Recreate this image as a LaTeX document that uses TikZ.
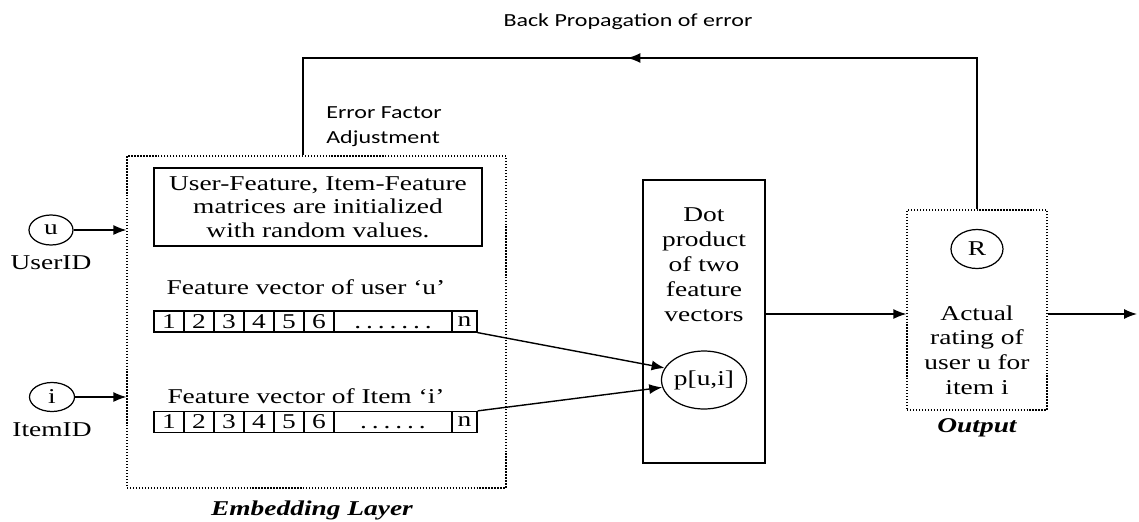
\documentclass[tikz,border=0pt]{standalone}
\usepackage{fontspec}
\setmainfont{Liberation Serif}[FakeStretch=1.3]
\newfontfamily\sansfb{Carlito}[FakeStretch=1.3]
\usepackage{tikz}
\usetikzlibrary{arrows.meta,shapes.geometric,decorations.markings}

\newcommand{\dotrow}[1]{\vphantom{1}\foreach \j in {1,...,#1}{.\hspace{2.8pt}}\unskip}

\tikzset{
  arr/.style={-{Latex[length=2.6mm,width=2mm]}, line width=0.8pt},
  txt/.style={font=\fontsize{12}{14.2}\selectfont, align=center, inner sep=0pt},
  sanstxt/.style={font=\sansfb\fontsize{10.5}{14.2}\selectfont, align=left, inner sep=0pt},
  dotbox/.style={draw, densely dotted, line width=0.7pt, inner sep=0pt},
  cell/.style={draw, line width=0.7pt, minimum height=0.42cm, inner sep=0pt, font=\fontsize{12}{14}\selectfont},
  idnode/.style={draw, ellipse, line width=0.7pt, inner sep=0pt, font=\fontsize{12}{14}\selectfont},
}

\begin{document}
\begin{tikzpicture}[x=0.02cm,y=-0.02cm]
                \useasboundingbox (0,0) rectangle (1139,521);
                % 嵌入层
                \node[dotbox, minimum width=7.58cm, minimum height=6.64cm] (embed) at (316.5,322) {};
                \node[txt, font=\fontsize{12}{14}\selectfont\bfseries\itshape] (embedlbl) at (312,510) {Embedding Layer};
                \node[draw, line width=0.8pt, txt, font=\fontsize{12}{13.5}\selectfont, minimum width=6.56cm, minimum height=1.56cm] (init) at (318,207) {User-Feature, Item-Feature\\matrices are initialized\\with random values.};
                % 特征向量
                \node[txt] (ulbl) at (306,287) {Feature vector of user ‘u’};
                \node[txt] (ilbl) at (306,396) {Feature vector of Item ‘i’};
                \foreach \r/\yy/\dd in {u/321.5/7, i/422/6} {
                    \foreach \k in {1,...,6}
                        \node[cell, minimum width=0.6cm] (\r\k) at ({139+30*\k},\yy) {\k};
                    \node[cell, minimum width=2.36cm] (\r-dots) at (393,\yy) {\dotrow{\dd}};
                    \node[cell, minimum width=0.5cm] (\r-n) at (464.5,\yy) {n};
                }
                % 输入
                \node[idnode, minimum width=0.88cm, minimum height=0.6cm] (u) at (51,230) {u};
                \node[txt] (ulabel) at (51,263) {UserID};
                \node[idnode, minimum width=0.9cm, minimum height=0.58cm] (i) at (52,397) {i};
                \node[txt] (ilabel) at (52,430) {ItemID};
                \draw[arr] (u) -- (u -| embed.west);
                \draw[arr] (i) -- (i -| embed.west);
                % 点积
                \node[draw, line width=0.9pt, minimum width=2.44cm, minimum height=5.66cm] (dot) at (704,321.5) {};
                \node[txt] (dottxt) at (704,265) {Dot\\product\\of two\\feature\\vectors};
                \node[idnode, minimum width=1.56cm, minimum height=1.16cm] (p) at (704,380) {p[u,i]};
                \draw[arr] (u-n.south east) -- (p.163);
                \draw[arr] (i-n.north east) -- (p.190);
                % 输出
                \node[dotbox, minimum width=2.8cm, minimum height=4cm] (out) at (977,310) {};
                \node[idnode, minimum width=1.04cm, minimum height=0.78cm] (R) at (977,249) {R};
                \node[txt, font=\fontsize{12}{14}\selectfont] (outtxt) at (977,350) {Actual\\rating of\\user u for\\item i};
                \node[txt, font=\fontsize{12}{14}\selectfont\bfseries\itshape] (outlbl) at (977,428) {Output};
                \coordinate (outend) at (1137,314);
                \draw[arr] (dot.east |- outend) -- (out.west |- outend);
                \draw[arr] (out.east |- outend) -- (outend);
                % 反向传播
                \coordinate (bp) at (303,58);
                \draw[line width=0.9pt, postaction={decorate},
                      decoration={markings, mark=at position 0.543 with {\arrow{Latex[length=2.6mm,width=2mm]}}}]
                      (out.north) |- (bp) -- (bp |- embed.north);
                \node[sanstxt] (bplbl) at (628,22) {Back Propagation of error};
                \node[sanstxt, anchor=west] (errlbl) at (326,127) {Error Factor\\Adjustment};
            \end{tikzpicture}
\end{document}
